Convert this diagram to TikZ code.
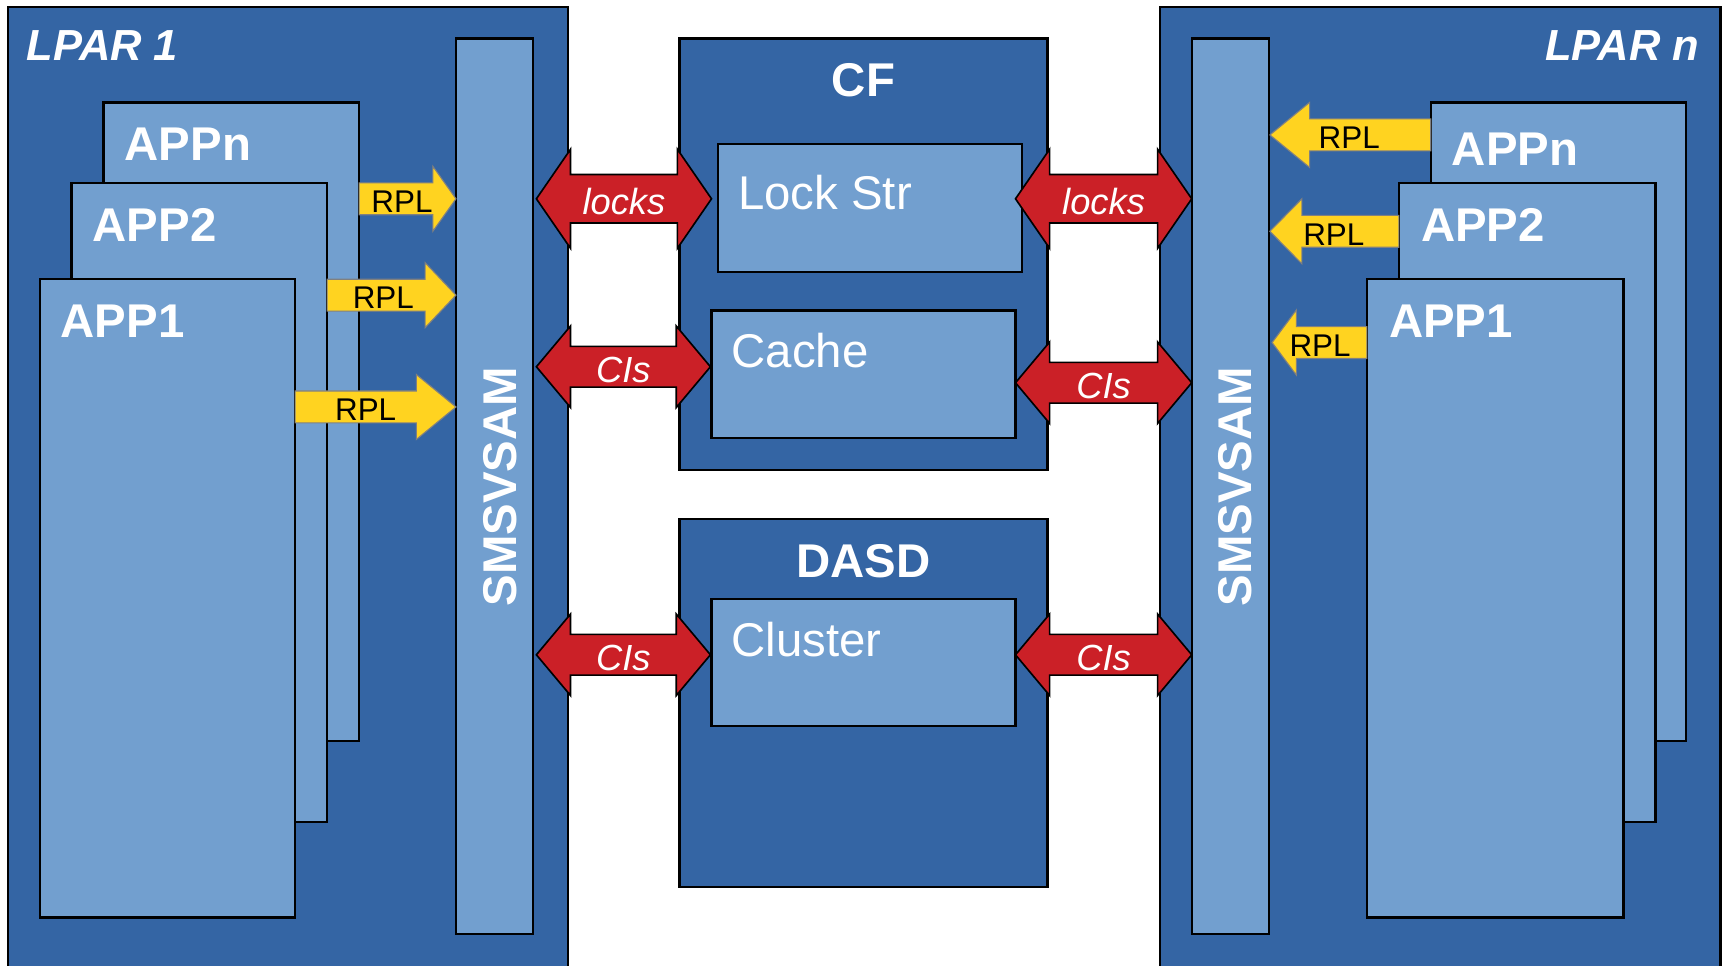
\documentclass[tikz,border=0pt]{standalone}
\usepackage{fontspec}
\setmainfont{Liberation Sans}
\definecolor{dblue}{HTML}{3465A4}
\definecolor{lblue}{HTML}{729FCF}
\definecolor{ared}{HTML}{CB2027}
\definecolor{ayel}{HTML}{FFD320}
\definecolor{agray}{HTML}{808080}
\tikzset{
  dbox/.style={draw=black, line width=2pt, fill=dblue, inner sep=0pt, outer sep=0pt, anchor=north west},
  lbox/.style={draw=black, line width=2pt, fill=lblue, inner sep=0pt, outer sep=0pt, anchor=north west},
  yarrow/.style={fill=ayel, draw=agray, line width=1pt},
  rarrow/.style={fill=ared, draw=black, line width=1.5pt},
  rpl/.style={font=\fontsize{28.5}{30}\selectfont, text=black, inner sep=0pt},
  rlabel/.style={font=\fontsize{33}{36}\selectfont\itshape, text=white, inner sep=0pt},
  apptitle/.style={font=\fontsize{43}{46}\selectfont\bfseries, text=white, inner sep=0pt},
  boxlabel/.style={font=\fontsize{43}{46}\selectfont, text=white, inner sep=0pt},
  lparlabel/.style={font=\fontsize{39.5}{42}\selectfont\bfseries\itshape, text=white, inner sep=0pt}
}
% name tail base tip yc textx
\newcommand{\yarr}[6]{%
  \draw[yarrow] (#2,#5-14.5) -- (#3,#5-14.5) -- (#3,#5-29.5) -- (#4,#5) -- (#3,#5+29.5) -- (#3,#5+14.5) -- (#2,#5+14.5) -- cycle;
  \node[rpl, anchor=base] (#1) at (#6,#5+12.5) {RPL};}
% name left right yc shafthalf headhalf label
\newcommand{\rarr}[7]{%
  \draw[rarrow] (#2,#4) -- (#2+31,#4-#6) -- (#2+31,#4-#5) -- (#3-31,#4-#5) -- (#3-31,#4-#6) -- (#3,#4) -- (#3-31,#4+#6) -- (#3-31,#4+#5) -- (#2+31,#4+#5) -- (#2+31,#4+#6) -- cycle;
  \node[rlabel, anchor=base] (#1) at ({(#2+#3)/2},#4+14) {#7};}
\begin{document}
\begin{tikzpicture}[x=1pt,y=-1pt]
\useasboundingbox (0,0) rectangle (1568,877);
\fill[white] (0,0) rectangle (1568,877);
\clip (0,0) rectangle (1568,877);
% LPARs
\node[dbox, minimum width=509pt, minimum height=900pt] (lpar1) at (7,6) {};
\node[dbox, minimum width=509pt, minimum height=900pt] (lparn) at (1053,6) {};
\node[lparlabel, anchor=base west] (lpar1t) at (24,55) {LPAR 1};
\node[lparlabel, anchor=base east] (lparnt) at (1543,55) {LPAR n};
% CF and DASD
\node[dbox, minimum width=334pt, minimum height=392pt] (cf) at (617,35) {};
\node[dbox, minimum width=334pt, minimum height=334pt] (dasd) at (617,471) {};
\node[apptitle, anchor=base] (cft) at (784,88) {CF};
\node[apptitle, anchor=base] (dasdt) at (784,524) {DASD};
\node[lbox, minimum width=276pt, minimum height=116pt] (lock) at (652,131) {};
\node[lbox, minimum width=276pt, minimum height=116pt] (cache) at (646,282) {};
\node[lbox, minimum width=276pt, minimum height=115pt] (cluster) at (646,544) {};
\node[boxlabel, anchor=base west] (lockt) at (670,190) {Lock Str};
\node[boxlabel, anchor=base west] (cachet) at (664,334) {Cache};
\node[boxlabel, anchor=base west] (clustert) at (664,596) {Cluster};
% SMSVSAM bars
\node[lbox, minimum width=70pt, minimum height=813pt] (smsl) at (414,35) {};
\node[lbox, minimum width=70pt, minimum height=813pt] (smsr) at (1082,35) {};
\node[apptitle, anchor=base, rotate=90] (smslt) at (469,442) {SMSVSAM};
\node[apptitle, anchor=base, rotate=90] (smsrt) at (1136,442) {SMSVSAM};
% left apps
\node[lbox, minimum width=232pt, minimum height=580pt] (appnl) at (94,93) {};
\node[apptitle, anchor=base west] (appnlt) at (113,146) {APPn};
\node[lbox, minimum width=232pt, minimum height=580pt] (app2l) at (65,166) {};
\node[apptitle, anchor=base west] (app2lt) at (84,219) {APP2};
\node[lbox, minimum width=232pt, minimum height=580pt] (app1l) at (36,253) {};
\node[apptitle, anchor=base west] (app1lt) at (55,306) {APP1};
% right apps
\node[lbox, minimum width=232pt, minimum height=580pt] (appnr) at (1299,93) {};
\node[apptitle, anchor=base west] (appnrt) at (1318,150) {APPn};
\node[lbox, minimum width=233pt, minimum height=580pt] (app2r) at (1270,166) {};
\node[apptitle, anchor=base west] (app2rt) at (1290,219) {APP2};
\node[lbox, minimum width=233pt, minimum height=580pt] (app1r) at (1241,253) {};
\node[apptitle, anchor=base west] (app1rt) at (1261,306) {APP1};
% RPL arrows
\yarr{rplL1}{326}{393}{414}{180.5}{365}
\yarr{rplL2}{297}{386}{414}{268}{348}
\yarr{rplL3}{268}{378}{414}{369.5}{332}
\yarr{rplR1}{1299}{1189}{1153}{122.5}{1225}
\yarr{rplR2}{1270}{1182}{1153}{210}{1211}
\yarr{rplR3}{1241}{1177}{1155}{311}{1198.5}
% red double arrows
\rarr{locksl}{487}{646}{180.5}{22}{45}{locks}
\rarr{cisl}{487}{645}{333}{18.5}{37}{CIs}
\rarr{cisdl}{487}{645}{594.5}{18.5}{37}{CIs}
\rarr{locksr}{922}{1082}{180.5}{22}{45}{locks}
\rarr{cisr}{922}{1082}{347.5}{18.5}{37}{CIs}
\rarr{cisdr}{922}{1082}{594.5}{18.5}{37}{CIs}
\end{tikzpicture}
\end{document}
